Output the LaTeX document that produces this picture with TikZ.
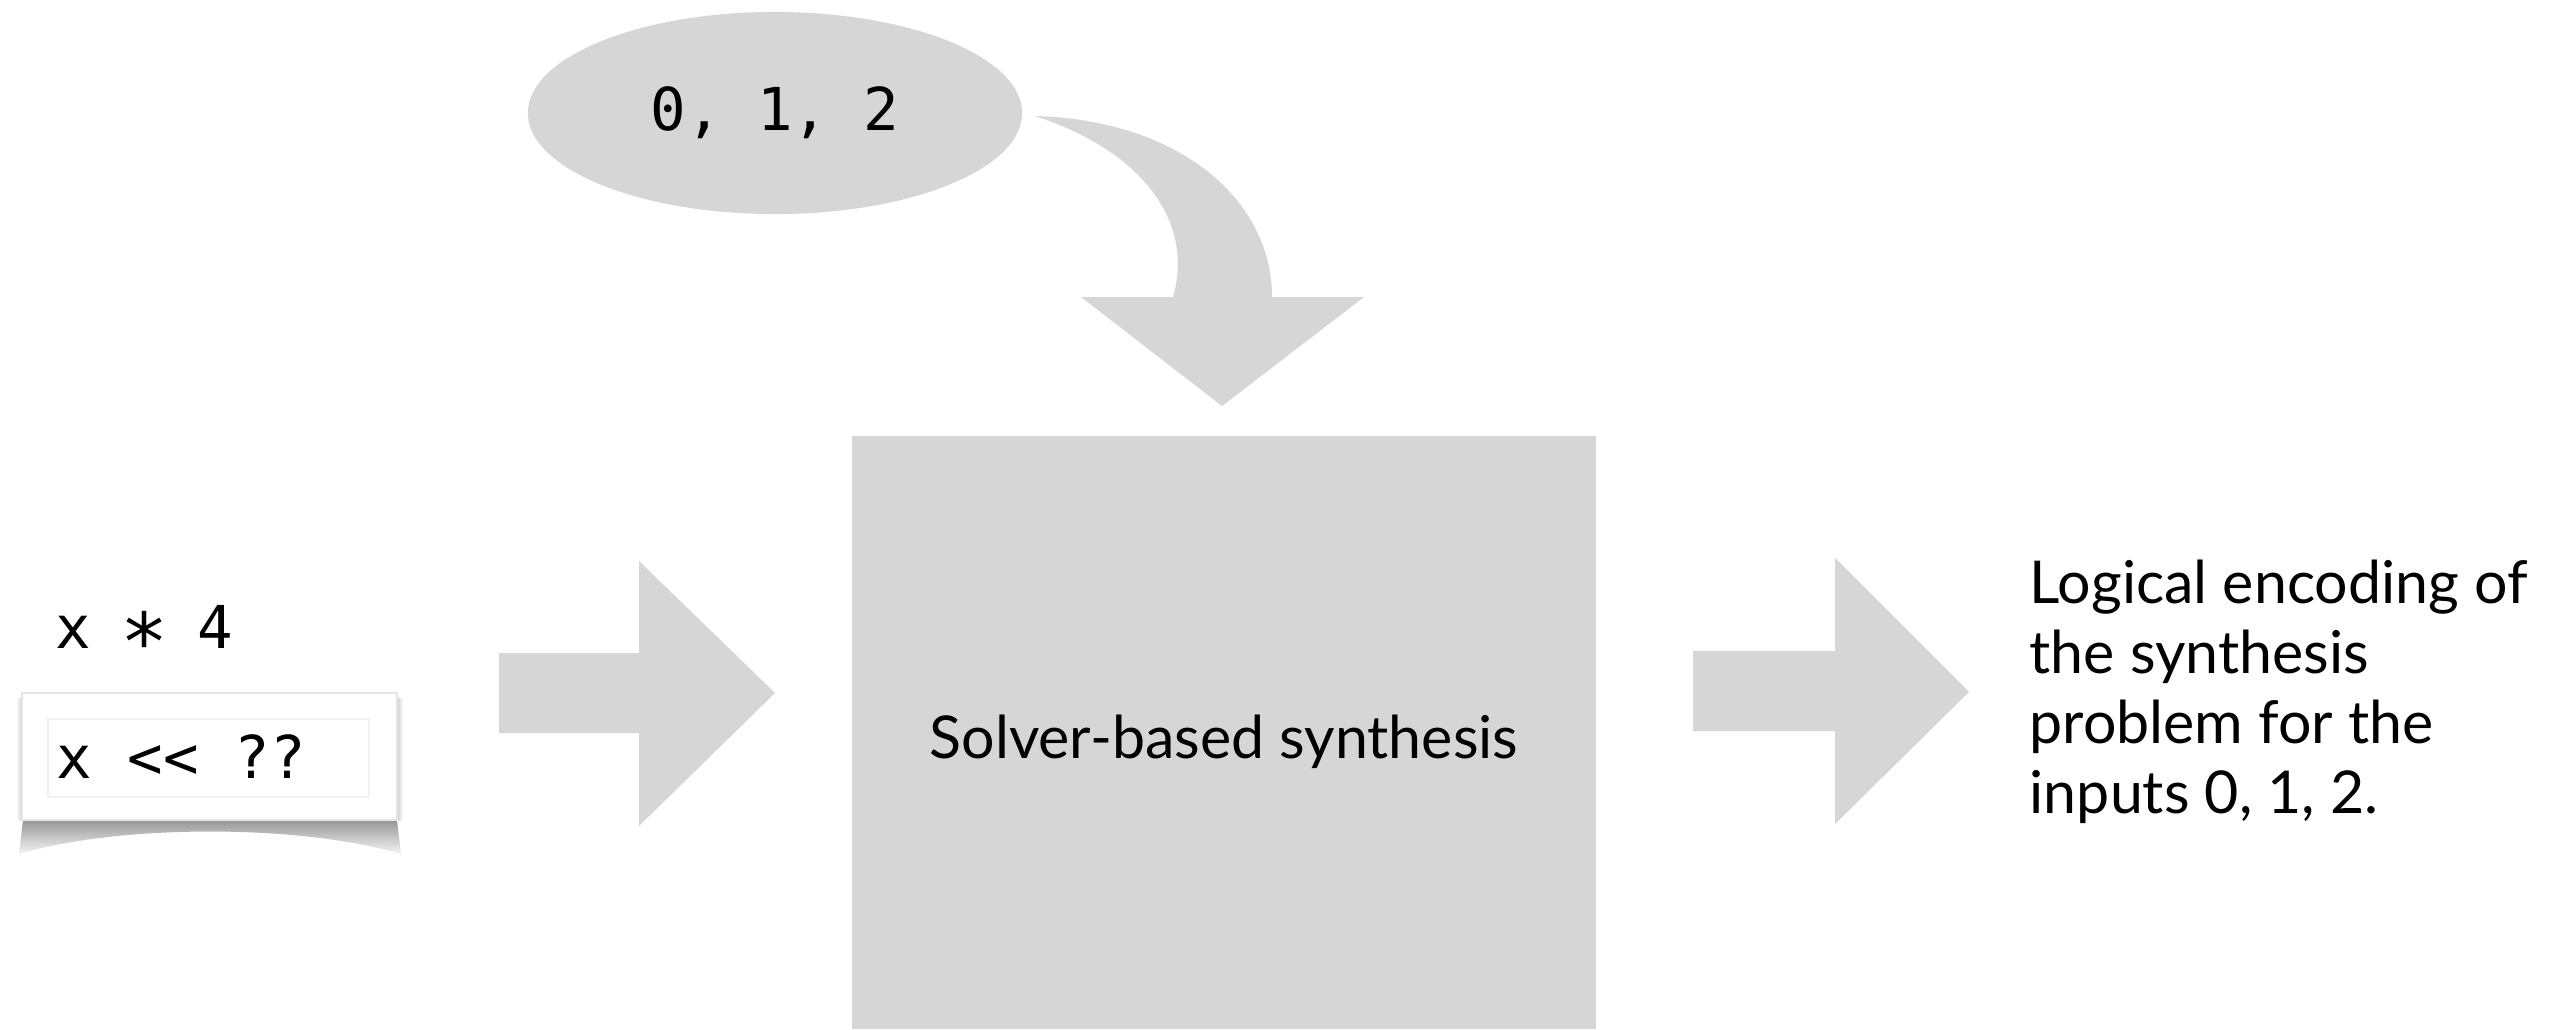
\documentclass[tikz,border=0pt]{standalone}
\usepackage{fontspec}
\setmainfont{Lato}
\setmonofont{DejaVu Sans Mono}
\usetikzlibrary{shapes.geometric}
\definecolor{keygray}{RGB}{214,214,214}
\tikzset{
  slidetext/.style={font=\fontsize{16.8}{19.9}\selectfont,inner sep=0pt},
  codetext/.style={font=\ttfamily\fontsize{16.8}{19.9}\selectfont,inner sep=0pt},
  greyfill/.style={fill=keygray,draw=none,inner sep=0pt},
  card/.style={fill=white,draw=black!10,line width=0.4pt,inner sep=0pt}
}
\begin{document}
\begin{tikzpicture}[x=0.01cm,y=-0.01cm]
\path[use as bounding box,fill=white] (0,0) rectangle (2558,1029);
\node[greyfill,ellipse,minimum width=4.94cm,minimum height=2.02cm,codetext] (inputs) at (775,113) {0, 1, 2};
\fill[keygray] (1035,116) .. controls (1180,120) and (1272,200) .. (1272,297) -- (1364,297) -- (1222,406)
  -- (1081,297) -- (1173,297) .. controls (1195,220) and (1140,150) .. (1035,116) -- cycle;
\node[greyfill,minimum width=7.44cm,minimum height=5.93cm] (solver) at (1224,732.5) {};
\node[slidetext,anchor=base] (solverlabel) at (1224,758) {Solver-based synthesis};
\node[codetext,anchor=base west] (spec) at (55,648) {x \makebox[0.6em]{\raisebox{-0.38em}{\scalebox{1.35}{*}}} 4};
\shade[top color=black!50,bottom color=black!4] (24,812) -- (396,812) -- (401,854)
  .. controls (300,824) and (120,824) .. (19,854) -- cycle;
\shade[left color=white,right color=black!22] (16,698) rectangle (23,820);
\shade[left color=black!22,right color=white] (396,698) rectangle (403,820);
\node[card,minimum width=3.75cm,minimum height=1.27cm] (card) at (209.5,756.5) {};
\node[card,draw=black!5,minimum width=3.21cm,minimum height=0.78cm] (hole) at (208.5,758) {};
\node[codetext,anchor=base west] (sketch) at (56,778) {x << ??};
\fill[keygray] (499,653) -- (639,653) -- (639,561) -- (775,693) -- (639,826) -- (639,733) -- (499,733) -- cycle;
\fill[keygray] (1693,651) -- (1835,651) -- (1835,558) -- (1969,692) -- (1835,824) -- (1835,731) -- (1693,731) -- cycle;
\node[slidetext,align=left,anchor=west] (encoding) at (2029,692) {Logical encoding of\\the synthesis\\problem for the\\inputs 0, 1, 2.};
\end{tikzpicture}
\end{document}
